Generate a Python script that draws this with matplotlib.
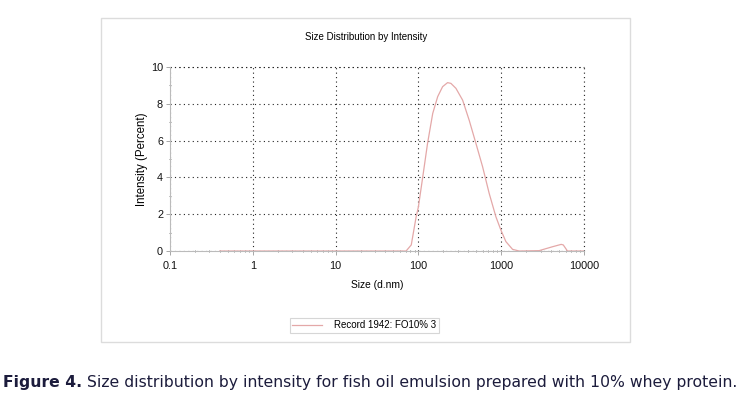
import matplotlib
matplotlib.use('Agg')
import matplotlib.pyplot as plt
from matplotlib.patches import Rectangle
from matplotlib.ticker import FixedLocator, NullFormatter

# size (d.nm) vs intensity (%)
size_nm = [0.4, 1, 10, 50, 71, 82, 94, 100, 113, 129, 149, 171, 196, 225, 247,
           284, 342, 411, 495, 596, 716, 863, 991, 1140, 1372, 1648, 2870,
           4150, 5300, 5620, 6310, 10000]
intensity = [0, 0, 0, 0, 0, 0.33, 1.87, 2.4, 4.04, 5.85, 7.48, 8.39, 8.93, 9.15, 9.11,
             8.84, 8.2, 7.1, 5.85, 4.58, 3.13, 1.86, 1.14, 0.51, 0.09, 0, 0.02,
             0.23, 0.36, 0.33, 0, 0]

x_ticks = [0.1, 1, 10, 100, 1000, 10000]
x_labels = ['0.1', '1', '10', '100', '1000', '10000']
y_ticks = [0, 2, 4, 6, 8, 10]

title = 'Size Distribution by Intensity'
legend_label = 'Record 1942: FO10% 3'
caption_bold = 'Figure 4.'
caption = ' Size distribution by intensity for fish oil emulsion prepared with 10% whey protein.'

plt.rcParams['font.family'] = ['Liberation Sans', 'DejaVu Sans']

fig = plt.figure(figsize=(7.4, 3.99), dpi=100)

# outer frame of the instrument plot
fig.patches.append(Rectangle((0.1365, 0.1429), 0.715, 0.812, transform=fig.transFigure,
                             fill=False, edgecolor='#dcdcdc', linewidth=1.0))

ax = fig.add_axes([0.2297, 0.3709, 0.5595, 0.4612])
ax.plot(size_nm, intensity, color='#e4a8a8', linewidth=0.9, label=legend_label)
ax.set_xscale('log')
ax.set_xlim(0.1, 10000)
ax.set_ylim(0, 10)

ax.set_xticks(x_ticks)
ax.set_xticklabels(x_labels)
ax.set_yticks(y_ticks)
ax.yaxis.set_minor_locator(FixedLocator([1, 3, 5, 7, 9]))
ax.xaxis.set_minor_formatter(NullFormatter())
ax.tick_params(labelsize=7.8, length=3, width=0.6, color='#999999', labelcolor='#111111')
ax.tick_params(axis='x', pad=4)
ax.tick_params(axis='y', pad=2)
ax.tick_params(which='minor', length=2, width=0.6, color='#777777', direction='inout')

dots = dict(color='#222222', linestyle=(0, (1, 3)), linewidth=0.8)
ax.grid(True, which='major', **dots)
ax.axhline(10, clip_on=False, **dots)
ax.axvline(10000, clip_on=False, **dots)

for side in ['top', 'right']:
    ax.spines[side].set_visible(False)
for side in ['left', 'bottom']:
    ax.spines[side].set_color('#bbbbbb')
    ax.spines[side].set_linewidth(0.8)

ax.set_xlabel('Size (d.nm)', fontsize=7.4, labelpad=7)
ax.set_ylabel('Intensity (Percent)', fontsize=8.3, labelpad=2)
fig.text(0.495, 0.907, title, fontsize=7, ha='center', va='center')

leg = fig.legend(loc='center', bbox_to_anchor=(0.4925, 0.185), fontsize=7,
                 frameon=True, fancybox=False, handlelength=3.0, borderpad=0.25,
                 handletextpad=1.3, borderaxespad=0)
leg.get_frame().set_edgecolor('#cccccc')
leg.get_frame().set_linewidth(0.8)

cap_color = '#1c1c3c'
t = fig.text(0.004, 0.042, caption_bold, fontsize=11.25, fontweight='bold',
             color=cap_color, family=['DejaVu Sans'], va='center')
fig.canvas.draw()
bb = t.get_window_extent()
fig.text(bb.x1 / fig.bbox.width, 0.042, caption, fontsize=11.25, color=cap_color,
         family=['DejaVu Sans'], va='center')

fig.savefig('out.png', dpi=100)
